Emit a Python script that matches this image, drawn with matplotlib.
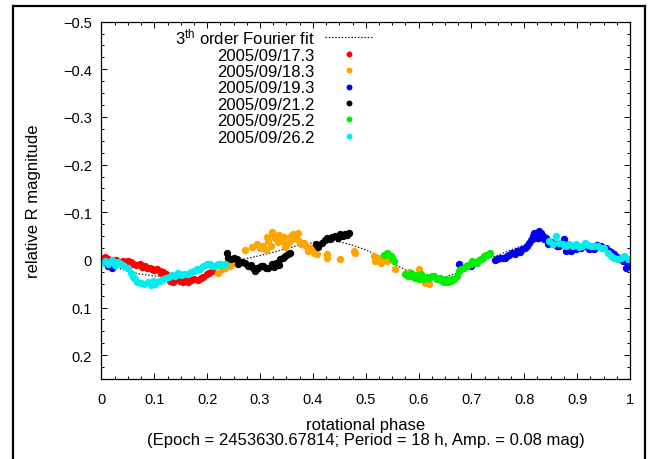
import matplotlib
matplotlib.use("Agg")
import matplotlib.pyplot as plt
from matplotlib.lines import Line2D
from matplotlib.ticker import AutoMinorLocator

plt.rcParams['font.family'] = ['Liberation Sans', 'DejaVu Sans']
plt.rcParams['mathtext.fontset'] = 'custom'
plt.rcParams['mathtext.rm'] = 'Liberation Sans'
plt.rcParams['mathtext.it'] = 'Liberation Sans:italic'

# 3rd order Fourier fit
fit_phase = [0.000, 0.025, 0.050, 0.075, 0.100, 0.125, 0.150, 0.175, 0.200, 0.225,
             0.250, 0.275, 0.300, 0.325, 0.350, 0.375, 0.400, 0.425, 0.450, 0.475,
             0.500, 0.525, 0.550, 0.575, 0.600, 0.625, 0.650, 0.675, 0.700, 0.725,
             0.750, 0.775, 0.800, 0.825, 0.850, 0.875, 0.900, 0.925, 0.950, 0.975,
             1.000]
fit_mag = [0.004, 0.014, 0.024, 0.030, 0.034, 0.034, 0.030, 0.024, 0.016, 0.009,
           0.002, -0.003, -0.009, -0.016, -0.024, -0.031, -0.036, -0.039, -0.038, -0.031,
           -0.021, -0.008, 0.006, 0.021, 0.031, 0.037, 0.036, 0.027, 0.013, 0.000,
           -0.010, -0.021, -0.031, -0.039, -0.041, -0.037, -0.032, -0.028, -0.024, -0.013,
           0.005]

# 2005/09/17.3
red_phase = [0.000, 0.007, 0.012, 0.018, 0.024, 0.028, 0.034, 0.040, 0.044, 0.050,
             0.055, 0.060, 0.066, 0.072, 0.077, 0.082, 0.087, 0.091, 0.096, 0.100,
             0.105, 0.110, 0.113, 0.117, 0.122, 0.129, 0.135, 0.141, 0.148, 0.155,
             0.160, 0.164, 0.170, 0.176, 0.183, 0.188, 0.193, 0.199, 0.204, 0.209,
             0.997, 1.000]
red_mag = [0.002, -0.006, -0.002, 0.003, 0.000, 0.001, 0.004, 0.002, 0.006, 0.002,
           0.005, 0.008, 0.010, 0.009, 0.015, 0.013, 0.018, 0.016, 0.020, 0.022,
           0.020, 0.023, 0.027, 0.026, 0.030, 0.044, 0.046, 0.040, 0.044, 0.046,
           0.043, 0.046, 0.042, 0.040, 0.043, 0.037, 0.035, 0.030, 0.028, 0.024,
           0.004, 0.002]

# 2005/09/18.3
orange_phase = [0.221, 0.228, 0.233, 0.237, 0.243, 0.249, 0.272, 0.285, 0.294, 0.300,
                0.306, 0.311, 0.316, 0.320, 0.325, 0.328, 0.331, 0.336, 0.341, 0.345,
                0.350, 0.355, 0.360, 0.363, 0.366, 0.369, 0.374, 0.378, 0.383, 0.387,
                0.391, 0.395, 0.398, 0.402, 0.408, 0.427, 0.427, 0.452, 0.477, 0.480,
                0.515, 0.518, 0.523, 0.528, 0.534, 0.540, 0.556, 0.582, 0.587, 0.601,
                0.608, 0.613, 0.620, 0.313, 0.322, 0.334, 0.347, 0.358, 0.371]
orange_mag = [0.027, 0.020, 0.016, 0.006, 0.013, 0.006, -0.020, -0.027, -0.033, -0.025,
              -0.029, -0.020, -0.040, -0.030, -0.054, -0.045, -0.047, -0.052, -0.040, -0.048,
              -0.033, -0.038, -0.044, -0.054, -0.050, -0.047, -0.040, -0.033, -0.036, -0.030,
              -0.019, -0.024, -0.026, -0.015, -0.012, -0.012, -0.005, -0.001, -0.019, -0.015,
              -0.008, 0.002, -0.003, 0.006, -0.001, 0.002, 0.020, 0.025, 0.030, 0.020,
              0.040, 0.048, 0.051, -0.048, -0.058, -0.038, -0.028, -0.050, -0.056]

# 2005/09/19.3
blue_phase = [0.005, 0.012, 0.019, 0.676, 0.699, 0.745, 0.749, 0.754, 0.758, 0.763,
              0.768, 0.772, 0.777, 0.782, 0.787, 0.791, 0.796, 0.801, 0.805, 0.809,
              0.812, 0.816, 0.819, 0.822, 0.825, 0.828, 0.831, 0.835, 0.838, 0.841,
              0.844, 0.850, 0.857, 0.862, 0.866, 0.871, 0.876, 0.879, 0.884, 0.888,
              0.893, 0.898, 0.902, 0.907, 0.912, 0.917, 0.923, 0.928, 0.932, 0.938,
              0.945, 0.950, 0.955, 0.961, 0.965, 0.970, 0.975, 0.980, 0.986, 0.992,
              0.996, 0.818, 0.826, 0.832]
blue_mag = [0.004, 0.012, 0.016, 0.009, 0.013, 0.000, -0.001, -0.004, -0.005, -0.003,
            -0.008, -0.010, -0.015, -0.012, -0.019, -0.017, -0.022, -0.026, -0.030, -0.036,
            -0.042, -0.050, -0.047, -0.054, -0.052, -0.061, -0.056, -0.050, -0.043, -0.046,
            -0.033, -0.038, -0.033, -0.030, -0.029, -0.036, -0.043, -0.019, -0.024, -0.019,
            -0.023, -0.022, -0.028, -0.026, -0.030, -0.029, -0.022, -0.025, -0.022, -0.031,
            -0.029, -0.024, -0.026, -0.019, -0.016, -0.012, -0.006, -0.001, 0.002, 0.016,
            0.006, -0.056, -0.046, -0.048]

# 2005/09/21.2
black_phase = [0.237, 0.240, 0.245, 0.250, 0.256, 0.259, 0.265, 0.272, 0.278, 0.283,
               0.287, 0.290, 0.294, 0.297, 0.302, 0.306, 0.311, 0.316, 0.322, 0.326,
               0.331, 0.335, 0.338, 0.343, 0.347, 0.353, 0.357, 0.405, 0.410, 0.417,
               0.422, 0.427, 0.433, 0.437, 0.442, 0.447, 0.452, 0.457, 0.461, 0.465,
               0.468]
black_mag = [-0.015, -0.005, -0.002, -0.003, -0.001, 0.009, 0.004, 0.006, 0.013, 0.010,
             0.016, 0.023, 0.018, 0.016, 0.012, 0.013, 0.017, 0.016, 0.009, 0.014,
             0.006, 0.010, -0.001, -0.004, -0.008, -0.012, -0.015, -0.033, -0.028, -0.036,
             -0.042, -0.047, -0.043, -0.048, -0.050, -0.047, -0.054, -0.050, -0.055, -0.052,
             -0.057]

# 2005/09/25.2
green_phase = [0.535, 0.540, 0.543, 0.547, 0.550, 0.553, 0.575, 0.580, 0.585, 0.588,
               0.593, 0.597, 0.600, 0.604, 0.607, 0.610, 0.615, 0.620, 0.625, 0.629,
               0.635, 0.640, 0.645, 0.648, 0.651, 0.656, 0.661, 0.664, 0.667, 0.672,
               0.676, 0.681, 0.686, 0.690, 0.694, 0.699, 0.702, 0.707, 0.711, 0.715,
               0.718, 0.721, 0.724, 0.728, 0.733, 0.736]
green_mag = [-0.010, -0.014, -0.012, -0.008, -0.005, 0.002, 0.030, 0.033, 0.028, 0.034,
             0.037, 0.032, 0.041, 0.030, 0.038, 0.041, 0.035, 0.037, 0.033, 0.034,
             0.041, 0.037, 0.044, 0.047, 0.041, 0.046, 0.044, 0.040, 0.041, 0.033,
             0.023, 0.019, 0.016, 0.012, 0.010, 0.009, 0.002, 0.004, 0.006, 0.000,
             -0.001, -0.004, -0.008, -0.010, -0.012, -0.015]

# 2005/09/26.2
cyan_phase = [0.000, 0.006, 0.012, 0.019, 0.025, 0.031, 0.037, 0.043, 0.050, 0.056,
              0.060, 0.063, 0.068, 0.075, 0.081, 0.088, 0.093, 0.097, 0.102, 0.106,
              0.111, 0.117, 0.122, 0.128, 0.133, 0.139, 0.145, 0.151, 0.157, 0.163,
              0.169, 0.176, 0.181, 0.186, 0.192, 0.199, 0.205, 0.210, 0.215, 0.220,
              0.224, 0.229, 0.234,
              0.847, 0.854, 0.860, 0.866, 0.873, 0.879, 0.885, 0.892, 0.898, 0.904,
              0.909, 0.914, 0.920, 0.926, 0.932, 0.939, 0.945, 0.951, 0.958, 0.964,
              0.970, 0.977, 0.983, 0.989, 0.996]
cyan_mag = [0.006, 0.002, 0.008, 0.001, 0.010, 0.004, 0.008, 0.012, 0.016, 0.027,
            0.035, 0.041, 0.046, 0.048, 0.050, 0.046, 0.052, 0.044, 0.050, 0.047,
            0.045, 0.040, 0.037, 0.036, 0.032, 0.034, 0.028, 0.032, 0.030, 0.029,
            0.026, 0.023, 0.020, 0.019, 0.013, 0.009, 0.008, 0.012, 0.013, 0.009,
            0.008, 0.010, 0.008,
            -0.040, -0.033, -0.050, -0.036, -0.033, -0.029, -0.033, -0.029, -0.033, -0.027,
            -0.030, -0.036, -0.032, -0.030, -0.029, -0.029, -0.026, -0.026, -0.015, -0.008,
            -0.005, -0.001, -0.005, -0.008, -0.001]

series = [
    ('2005/09/17.3', red_phase, red_mag, '#ff0000'),
    ('2005/09/18.3', orange_phase, orange_mag, '#ffa500'),
    ('2005/09/19.3', blue_phase, blue_mag, '#0000ee'),
    ('2005/09/21.2', black_phase, black_mag, '#000000'),
    ('2005/09/25.2', green_phase, green_mag, '#00ee00'),
    ('2005/09/26.2', cyan_phase, cyan_mag, '#00eeee'),
]

x_ticks = [0, 0.1, 0.2, 0.3, 0.4, 0.5, 0.6, 0.7, 0.8, 0.9, 1]
x_tick_labels = ['0', '0.1', '0.2', '0.3', '0.4', '0.5', '0.6', '0.7', '0.8', '0.9', '1']
y_ticks = [-0.5, -0.4, -0.3, -0.2, -0.1, 0, 0.1, 0.2]
y_tick_labels = ['\u22120.5', '\u22120.4', '\u22120.3', '\u22120.2', '\u22120.1', '0', '0.1', '0.2']

fig = plt.figure(figsize=(6.48, 4.6), dpi=100)
ax = fig.add_axes([0.1566, 0.1739, 0.8156, 0.7768])

ax.plot(fit_phase, fit_mag, color='#222222', lw=0.9, linestyle=(0, (1.2, 1.4)),
        label='3$^{\\rm th}$ order Fourier fit')
for label, ph, mag, col in series:
    ax.plot(ph, mag, 'o', color=col, ms=5.3, mew=0, label=label)

ax.set_xlim(0, 1)
ax.set_ylim(0.25, -0.5)
ax.set_xticks(x_ticks)
ax.set_xticklabels(x_tick_labels)
ax.set_yticks(y_ticks)
ax.set_yticklabels(y_tick_labels)
ax.xaxis.set_minor_locator(AutoMinorLocator(4))
ax.yaxis.set_minor_locator(AutoMinorLocator(4))
ax.tick_params(which='both', direction='in', top=True, right=True, width=0.7)
ax.tick_params(which='major', length=4, labelsize=10.5)
ax.tick_params(axis='x', which='major', pad=9)
ax.tick_params(axis='y', which='major', pad=7)
ax.tick_params(which='minor', length=2)
for sp in ax.spines.values():
    sp.set_linewidth(0.9)

ax.set_ylabel('relative R magnitude', fontsize=12, va='center')
ax.yaxis.set_label_coords(-0.129, 0.5)
ax.set_xlabel('rotational phase\n(Epoch = 2453630.67814; Period = 18 h, Amp. = 0.08 mag)',
              fontsize=12, va='top', linespacing=1.0)
ax.xaxis.set_label_coords(0.5, -0.105)

leg = ax.legend(loc='upper right', bbox_to_anchor=(0.512, 0.987), frameon=False,
                markerfirst=False, handlelength=2.8, handletextpad=0.65,
                labelspacing=0.085, borderpad=0, borderaxespad=0, fontsize=12,
                markerscale=0.8)

# outer frame around the figure
for xs, ys in [([0.02, 0.02], [-0.1, 0.985]), ([0.02, 0.9954], [0.985, 0.985]),
               ([0.9954, 0.9954], [-0.1, 0.985])]:
    fig.add_artist(Line2D(xs, ys, color='black', lw=1.6, transform=fig.transFigure))

fig.savefig('out.png', dpi=100)
